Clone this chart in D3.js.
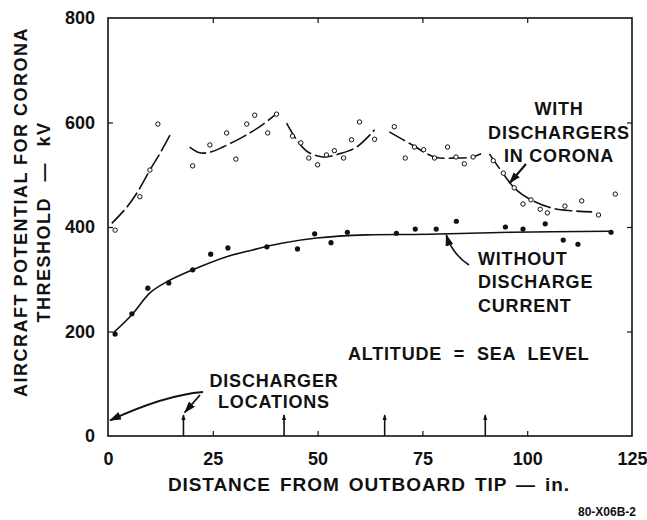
<!DOCTYPE html>
<html><head><meta charset="utf-8">
<script src="https://cdn.jsdelivr.net/npm/d3@7"></script>
<style>body{margin:0;background:#fff}text{font-family:"Liberation Sans",Arial,sans-serif;fill:#111}</style>
</head><body>
<svg id="c" width="647" height="520"></svg>
<script>
// ---- data ----
const xTicks = [0, 25, 50, 75, 100, 125];
const yTicks = [0, 200, 400, 600, 800];
const dischargerLocations = [18, 42, 66, 90];

// measured points, "with dischargers in corona" (open circles)
const withPts = [[1.7,394],[7.6,458],[10,509],[11.9,597],[20.2,517],[24.3,557],[28.3,580],[30.5,530],
  [33.1,597],[35,614],[38.1,580],[40.2,616],[44,574],[46,561],[47.9,532],[50,519],[52.1,538],[54,546],
  [56.2,532],[58.1,567],[60,601],[63.6,568],[68.3,592],[70.9,532],[73.1,553],[75.3,548],[77.9,532],
  [81,553],[83,534],[85,521],[87.1,534],[91.9,527],[94.3,503],[96.9,475],[99,444],[100.9,452],
  [103.1,434],[104.8,427],[109,440],[113,450],[117,423],[121,463]];
// measured points, "without discharge current" (filled dots)
const withoutPts = [[1.7,195],[5.7,234],[9.5,283],[14.5,293],[20.2,318],[24.5,348],[28.6,360],[37.9,362],
  [45.2,358],[49.3,387],[53.2,370],[57.1,390],[68.8,388],[73.3,396],[78.3,396],[83.1,411],[94.8,400],
  [99,396],[104.3,406],[108.6,375],[112.1,367],[120,390]];

// faired curves
const withSeg1 = [[0.9,407],[4.3,436],[6.9,465],[10,509],[12.4,541],[14.8,576]];
const withSeg2 = [[19.5,553],[21.9,542],[24.7,544],[27.4,553],[32.1,572],[36.2,592],[39.8,614]];
const withSeg3 = [[42.6,599],[45,567],[47.6,544],[51.2,534],[55.2,540],[59.3,553],[63.6,586]];
const withSeg4 = [[67.1,582],[72.6,557],[77.9,534],[83,532],[86.9,534],[89,540]];
const withSeg5 = [[91,540],[94,505],[97.4,471],[100.9,452],[106,436],[110.7,431],[115.5,429]];
const withoutCurve = [[1.2,197],[5.7,232],[10,274],[14,295],[20.2,318],[28.3,343],[34.5,356],[41.4,369],
  [49.8,379],[61.7,385],[76.7,386],[96.4,390],[119.5,392]];

// ---- chart ----
const svg = d3.select("#c");
const x = d3.scaleLinear().domain([0,125]).range([108,632]);
const y = d3.scaleLinear().domain([0,800]).range([436,18]);
const ink = "#111";

const defs = svg.append("defs");
defs.append("marker").attr("id","ah").attr("viewBox","0 0 12 8").attr("refX",11).attr("refY",4)
  .attr("markerWidth",12).attr("markerHeight",8).attr("markerUnits","userSpaceOnUse").attr("orient","auto")
  .append("path").attr("d","M0,0 L12,4 L0,8 Z").attr("fill",ink);
defs.append("marker").attr("id","ahs").attr("viewBox","0 0 8 6").attr("refX",7).attr("refY",3)
  .attr("markerWidth",6).attr("markerHeight",5).attr("markerUnits","userSpaceOnUse").attr("orient","auto")
  .append("path").attr("d","M0,0 L8,3 L0,6 Z").attr("fill",ink);

// axes
const fontAx = '"Liberation Sans",Arial,sans-serif';
const gx = svg.append("g").attr("transform",`translate(0,${y(0)})`)
  .call(d3.axisBottom(x).tickValues(xTicks).tickSize(-5).tickPadding(16));
const gy = svg.append("g").attr("transform",`translate(${x(0)},0)`)
  .call(d3.axisLeft(y).tickValues(yTicks).tickSize(-5).tickPadding(13));
const gt = svg.append("g").attr("transform",`translate(0,${y(800)})`)
  .call(d3.axisTop(x).tickValues([25,50,75,100]).tickSize(-5).tickFormat(""));
const gr = svg.append("g").attr("transform",`translate(${x(125)},0)`)
  .call(d3.axisRight(y).tickValues([200,400,600]).tickSize(-5).tickFormat(""));
[gx,gy,gt,gr].forEach(g=>{
  g.select(".domain").remove();
  g.selectAll(".tick line").attr("stroke",ink).attr("stroke-width",1.2);
  g.selectAll("text").attr("font-family",fontAx).attr("font-size",18).attr("font-weight","bold").attr("fill",ink);
});
gx.selectAll(".tick").filter(d=>d===0||d===125).select("line").remove();
gy.selectAll(".tick").filter(d=>d===0||d===800).select("line").remove();

// frame
svg.append("rect").attr("x",x(0)).attr("y",y(800)).attr("width",x(125)-x(0)).attr("height",y(0)-y(800))
  .attr("fill","none").attr("stroke",ink).attr("stroke-width",1.6);

// axis titles
svg.append("text").attr("x",369).attr("y",491).attr("text-anchor","middle")
  .attr("font-size",19).attr("font-weight","bold").attr("letter-spacing",0.9).attr("word-spacing",3)
  .text("DISTANCE FROM OUTBOARD TIP — in.");
svg.append("text").attr("transform","translate(27,212) rotate(-90)").attr("text-anchor","middle")
  .attr("font-size",18).attr("font-weight","bold").attr("letter-spacing",1.5)
  .text("AIRCRAFT POTENTIAL FOR CORONA");
svg.append("text").attr("transform","translate(50,222) rotate(-90)").attr("text-anchor","middle")
  .attr("font-size",18).attr("font-weight","bold").attr("letter-spacing",1.5).attr("word-spacing",9)
  .text("THRESHOLD — kV");
svg.append("text").attr("x",636).attr("y",516).attr("text-anchor","end")
  .attr("font-size",12).attr("font-weight","bold").text("80-X06B-2");

// curves
const line = d3.line().x(d=>x(d[0])).y(d=>y(d[1])).curve(d3.curveCatmullRom.alpha(0.5));
[withSeg1,withSeg2,withSeg3,withSeg4,withSeg5].forEach(s=>{
  svg.append("path").datum(s).attr("d",line).attr("fill","none").attr("stroke",ink)
    .attr("stroke-width",1.6).attr("stroke-dasharray","18,4");
});
svg.append("path").datum(withoutCurve).attr("d",line).attr("fill","none").attr("stroke",ink)
  .attr("stroke-width",1.6);

// points
svg.append("g").selectAll("circle").data(withPts).join("circle")
  .attr("cx",d=>x(d[0])).attr("cy",d=>y(d[1])).attr("r",2.2)
  .attr("fill","#fff").attr("stroke",ink).attr("stroke-width",1);
svg.append("g").selectAll("circle").data(withoutPts).join("circle")
  .attr("cx",d=>x(d[0])).attr("cy",d=>y(d[1])).attr("r",2.6).attr("fill",ink);

// discharger location marks
svg.append("g").selectAll("line").data(dischargerLocations).join("line")
  .attr("x1",d=>x(d)).attr("x2",d=>x(d)).attr("y1",y(0)).attr("y2",y(40))
  .attr("stroke",ink).attr("stroke-width",1.6).attr("marker-end","url(#ahs)");

// annotations
function lines(arr, xx, ys, anchor){
  arr.forEach((t,i)=>svg.append("text").attr("x",xx).attr("y",ys[i]).attr("text-anchor",anchor)
    .attr("font-size",18).attr("font-weight","bold").attr("letter-spacing",0.8).text(t));
}
lines(["WITH","DISCHARGERS","IN CORONA"],559,[115,139,162],"middle");
lines(["WITHOUT","DISCHARGE","CURRENT"],478,[265,288,312],"start");
lines(["DISCHARGER","LOCATIONS"],274,[387,408],"middle");
svg.append("text").attr("x",348).attr("y",360).attr("font-size",18).attr("font-weight","bold")
  .attr("letter-spacing",0.8).attr("word-spacing",6).text("ALTITUDE = SEA LEVEL");

// arrows
svg.append("path").attr("d",`M526,164 L${x(95.8)},${y(484)}`).attr("stroke",ink).attr("stroke-width",2.2)
  .attr("fill","none").attr("marker-end","url(#ah)");
svg.append("path").attr("d",`M469,265 Q452,254 ${x(80.7)},${y(385)}`).attr("stroke",ink).attr("stroke-width",1.6)
  .attr("fill","none").attr("marker-end","url(#ah)");
svg.append("path").attr("d",`M203,392 Q165,395 ${x(0.5)},${y(30)}`).attr("stroke",ink).attr("stroke-width",1.8)
  .attr("fill","none").attr("marker-end","url(#ah)");
svg.append("path").attr("d",`M200,395 L${x(18.3)},${y(45)}`).attr("stroke",ink).attr("stroke-width",1.8)
  .attr("fill","none").attr("marker-end","url(#ah)");
</script>
</body></html>
